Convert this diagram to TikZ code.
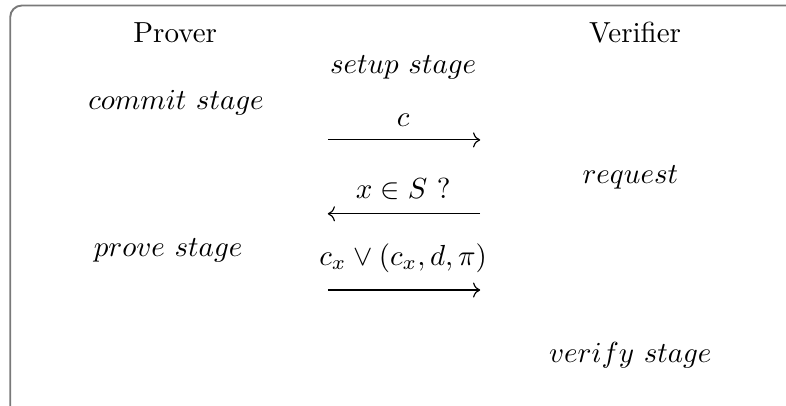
\documentclass[tikz,border=0pt]{standalone}
\usepackage{amsmath}
\usetikzlibrary{arrows.meta,positioning}

\begin{document}
\begin{tikzpicture}[scale=0.952, font=\normalsize,
  msg/.style={->, thin}]
\useasboundingbox (0,0) rectangle (10,-5.165);
% ---- frame (runs off the page on the right and at the bottom) ----------
\draw[gray!95!black, line width=0.65pt, rounded corners=4pt] (0.13,-0.07) rectangle (10.6,-5.6);

% ---- the two parties -----------------------------------------------------
\node (prover)   at (2.23,-0.42) {Prover};
\node (verifier) at (8.08,-0.42) {Verifier};

% ---- stages --------------------------------------------------------------
\node (setup)   at (5.13,-0.86) {$setup\ stage$};
\node (commit)  at (2.24,-1.31) {$commit\ stage$};
\node (request) at (8.02,-2.26) {$request$};
\node (prove)   at (2.14,-3.18) {$prove\ stage$};
\node (verify)  at (8.02,-4.52) {$verify\ stage$};

% ---- messages ------------------------------------------------------------
\def\xl{4.17}\def\xr{6.11}
\foreach \n/\y in {one/-1.78, two/-2.72, three/-3.69}{
  \coordinate (\n-l) at (\xl,\y);
  \coordinate (\n-r) at (\xr,\y);
}
\node (msgc) at (5.13,-1.53) {$c$};
\node (msgq) at (5.13,-2.41) {$x \in S\ ?$};
\node (msgr) at (5.13,-3.28) {$c_x \vee (c_x, d, \pi)$};
\draw[msg] (one-l) -- (one-r);
\draw[msg] (two-r) -- (two-l);
\draw[msg] (three-l) -- (three-r);
\end{tikzpicture}
\end{document}
